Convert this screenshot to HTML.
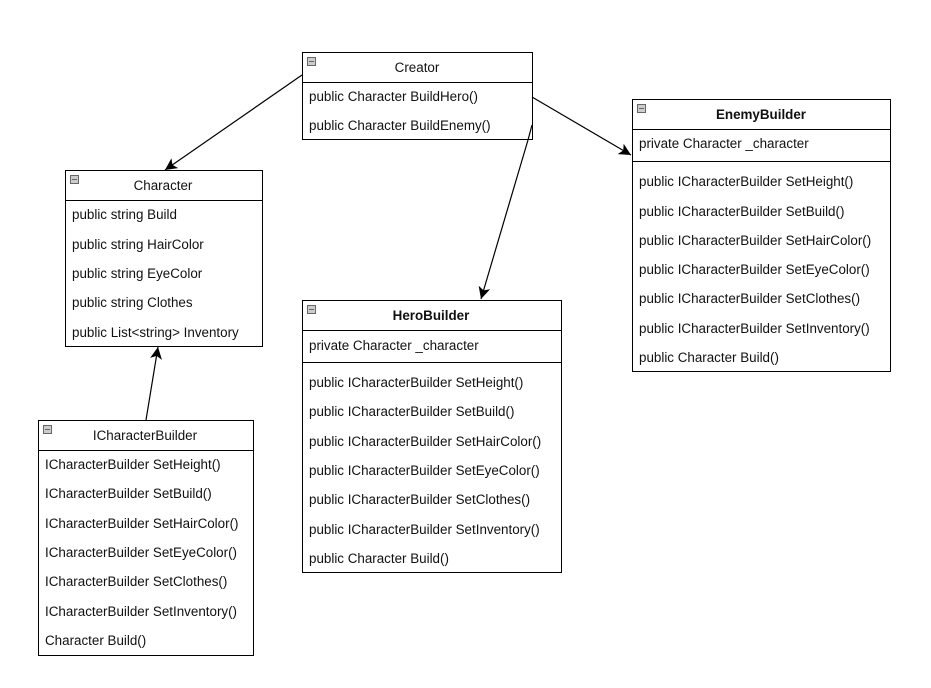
<!DOCTYPE html>
<html><head><meta charset="utf-8"><style>
html,body{margin:0;padding:0;background:#fff;}
svg{display:block;font-family:"Liberation Sans",Arial,sans-serif;font-size:13.4px;}
</style></head><body>
<svg width="931" height="688" viewBox="0 0 931 688" xmlns="http://www.w3.org/2000/svg">
<defs>
<marker id="a" markerWidth="14" markerHeight="14" refX="12" refY="6" orient="auto" markerUnits="userSpaceOnUse">
<path d="M0,0 L12,6 L0,12 L3,6 Z" fill="#000"/>
</marker>
</defs>
<g fill="#fff" stroke="#000" stroke-width="1">
<rect x="302.5" y="52.5" width="230" height="87"/>
<line x1="302" y1="82.5" x2="532" y2="82.5"/>
<rect x="65.5" y="170.5" width="197" height="176"/>
<line x1="65" y1="200.5" x2="262" y2="200.5"/>
<rect x="38.5" y="420.5" width="215" height="235"/>
<line x1="38" y1="450.5" x2="253" y2="450.5"/>
<rect x="302.5" y="300.5" width="259" height="272"/>
<line x1="302" y1="330.5" x2="561" y2="330.5"/>
<line x1="302" y1="362.5" x2="561" y2="362.5"/>
<rect x="632.5" y="99.5" width="258" height="272"/>
<line x1="632" y1="129.5" x2="890" y2="129.5"/>
<line x1="632" y1="161.5" x2="890" y2="161.5"/>
</g>
<g fill="#ccc" stroke="#666" stroke-width="1">
<rect x="307.5" y="57.5" width="8" height="8"/>
<rect x="70.5" y="175.5" width="8" height="8"/>
<rect x="43.5" y="425.5" width="8" height="8"/>
<rect x="307.5" y="305.5" width="8" height="8"/>
<rect x="637.5" y="104.5" width="8" height="8"/>
</g>
<g stroke="#666" stroke-width="1">
<line x1="309" y1="61.5" x2="314" y2="61.5"/>
<line x1="72" y1="179.5" x2="77" y2="179.5"/>
<line x1="45" y1="429.5" x2="50" y2="429.5"/>
<line x1="309" y1="309.5" x2="314" y2="309.5"/>
<line x1="639" y1="108.5" x2="644" y2="108.5"/>
</g>
<g stroke="#000" stroke-width="1.2" fill="none">
<line x1="302" y1="75" x2="165" y2="170" marker-end="url(#a)"/>
<line x1="532" y1="97" x2="631" y2="155" marker-end="url(#a)"/>
<polyline points="532,125 528,140 481,299" marker-end="url(#a)"/>
<line x1="146" y1="420" x2="158" y2="347" marker-end="url(#a)"/>
</g>
<g fill="#111">
<text x="417" y="72" text-anchor="middle">Creator</text>
<text x="309" y="101">public Character BuildHero()</text>
<text x="309" y="130">public Character BuildEnemy()</text>

<text x="163" y="190" text-anchor="middle">Character</text>
<text x="72" y="219">public string Build</text>
<text x="72" y="249">public string HairColor</text>
<text x="72" y="278">public string EyeColor</text>
<text x="72" y="307">public string Clothes</text>
<text x="72" y="337">public List&lt;string&gt; Inventory</text>

<text x="145" y="440" text-anchor="middle">ICharacterBuilder</text>
<text x="45" y="469">ICharacterBuilder SetHeight()</text>
<text x="45" y="498">ICharacterBuilder SetBuild()</text>
<text x="45" y="528">ICharacterBuilder SetHairColor()</text>
<text x="45" y="557">ICharacterBuilder SetEyeColor()</text>
<text x="45" y="586">ICharacterBuilder SetClothes()</text>
<text x="45" y="616">ICharacterBuilder SetInventory()</text>
<text x="45" y="645">Character Build()</text>

<text x="431" y="320" text-anchor="middle" font-weight="bold">HeroBuilder</text>
<text x="309" y="350">private Character _character</text>
<text x="309" y="387">public ICharacterBuilder SetHeight()</text>
<text x="309" y="416">public ICharacterBuilder SetBuild()</text>
<text x="309" y="446">public ICharacterBuilder SetHairColor()</text>
<text x="309" y="475">public ICharacterBuilder SetEyeColor()</text>
<text x="309" y="504">public ICharacterBuilder SetClothes()</text>
<text x="309" y="534">public ICharacterBuilder SetInventory()</text>
<text x="309" y="563">public Character Build()</text>

<text x="761" y="119" text-anchor="middle" font-weight="bold">EnemyBuilder</text>
<text x="639" y="148">private Character _character</text>
<text x="639" y="186">public ICharacterBuilder SetHeight()</text>
<text x="639" y="216">public ICharacterBuilder SetBuild()</text>
<text x="639" y="245">public ICharacterBuilder SetHairColor()</text>
<text x="639" y="274">public ICharacterBuilder SetEyeColor()</text>
<text x="639" y="303">public ICharacterBuilder SetClothes()</text>
<text x="639" y="333">public ICharacterBuilder SetInventory()</text>
<text x="639" y="362">public Character Build()</text>
</g>
</svg>
</body></html>
